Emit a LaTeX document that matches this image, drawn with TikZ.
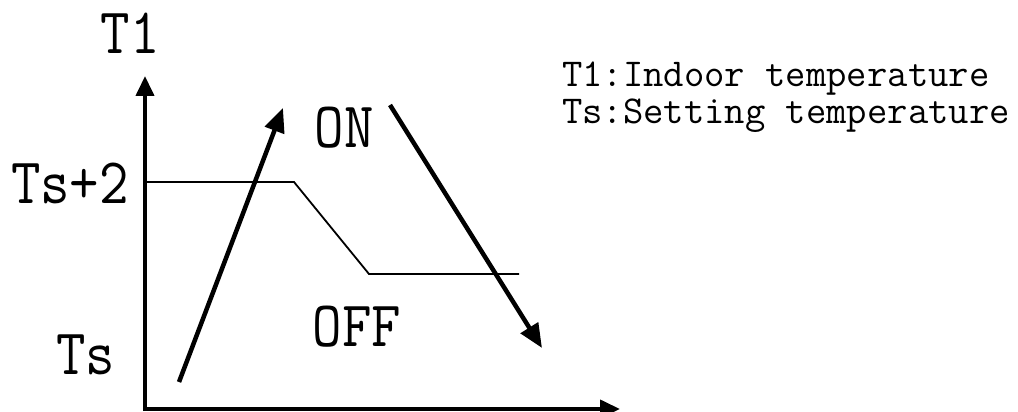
\documentclass[tikz,border=0pt]{standalone}
\usepackage{fontspec}
\usepackage{graphicx}
\usetikzlibrary{arrows.meta}
\newcommand{\condtxt}[1]{\scalebox{0.88}[1]{#1}}
\tikzset{
  biglbl/.style={font=\ttfamily\fontsize{65}{65}\selectfont, inner sep=0pt},
  legendtxt/.style={font=\ttfamily\fontsize{39.5}{39.5}\selectfont, inner sep=0pt, anchor=base west},
  axisline/.style={line width=4pt, -{Triangle[length=20pt,width=18pt]}},
  trendline/.style={line width=4.5pt, -{Triangle[length=24pt,width=20pt]}},
  thresline/.style={line width=1.8pt, line join=miter},
}
\begin{document}
\begin{tikzpicture}[x=1pt,y=-1pt]
\useasboundingbox (0,0) rectangle (1018,412);
% axes
\coordinate (O1) at (145,411);
\coordinate (O2) at (143,409);
\coordinate (Ytip) at (145,76);
\coordinate (Xtip) at (620,409);
\draw[axisline] (O1) -- (Ytip);
\draw[axisline] (O2) -- (Xtip);
% threshold line
\coordinate (A) at (145,182);
\coordinate (B) at (294,182);
\coordinate (C) at (369,274);
\coordinate (D) at (519,274);
\draw[thresline] (A) -- (B) -- (C) -- (D);
% trend arrows
\coordinate (U1) at (179,382);
\coordinate (U2) at (283,108);
\coordinate (W1) at (390,105);
\coordinate (W2) at (542,348);
\draw[trendline] (U1) -- (U2);
\draw[trendline] (W1) -- (W2);
% labels
\node[biglbl] (t1) at (130,33) {\condtxt{T1}};
\node[biglbl] (ts2) at (70,183) {\condtxt{Ts+2}};
\node[biglbl] (ts) at (86,355) {\condtxt{Ts}};
\node[biglbl] (on) at (344,128) {\condtxt{ON}};
\node[biglbl] (off) at (357,327) {\condtxt{OFF}};
% legend
\node[legendtxt] (leg1) at (562,86) {T1:Indoor temperature};
\node[legendtxt] (leg2) at (562,123) {Ts:Setting temperature};
\end{tikzpicture}
\end{document}
